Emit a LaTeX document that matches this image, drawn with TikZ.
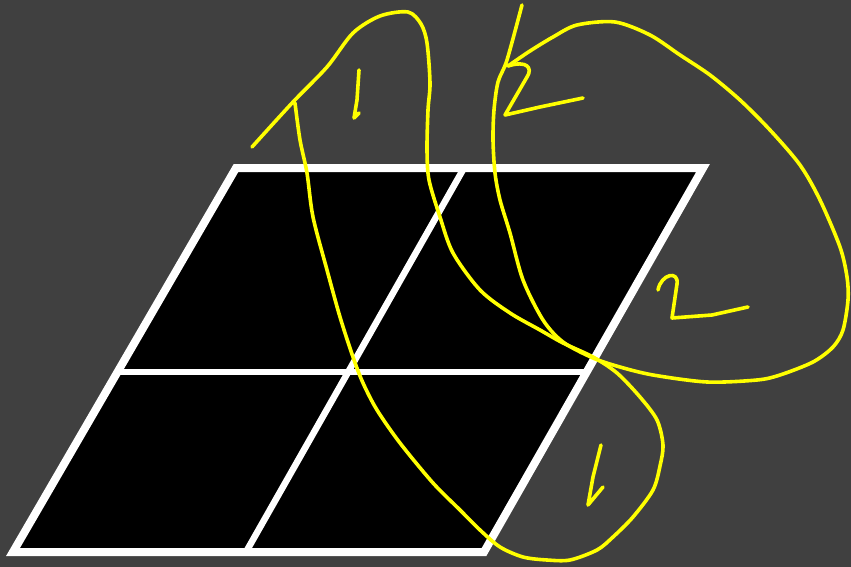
\documentclass[tikz,border=0pt]{standalone}
\usepackage{tikz}
\usetikzlibrary{calc}
\definecolor{slate}{RGB}{64,64,64}
\definecolor{marker}{RGB}{255,255,0}

\begin{document}
\begin{tikzpicture}[x=1pt, y=-1pt,
    rim/.style={draw=white, line width=8pt, fill=black},
    divider/.style={draw=white, line width=6.5pt},
    trail/.style={draw=marker, line width=3.6pt, line cap=round, line join=round},
    digit/.style={trail}
]

% Background
\fill[slate] (0,0) rectangle (851,567);
\useasboundingbox (0,0) rectangle (851,567);

% Grid corners
\coordinate (tl) at (236,168);
\coordinate (tr) at (703,168);
\coordinate (br) at (484,552);
\coordinate (bl) at (13,552);
\coordinate (ml) at ($(tl)!0.531!(bl)$);
\coordinate (mr) at ($(tr)!0.531!(br)$);
\coordinate (mt) at (464,168);
\coordinate (mb) at (246,552);

% Grid
\draw[rim] (tl) -- (tr) -- (br) -- (bl) -- cycle;
\draw[divider] (ml) -- (mr);
\draw[divider] (mt) -- (mb);

% Path 1
\draw[trail] plot[smooth, tension=0.5] coordinates {
    (295,103) (300,140) (307,173) (313,217) (327,270) (340,317) (353,357)
    (363,383) (377,410) (400,443) (433,483) (460,510) (480,530) (500,547)
    (523,557) (547,560) (570,560) (597,550) (613,537) (633,517) (653,490)
    (660,466) (663,445) (657,420) (640,397) (617,373) (593,357) (563,343)
    (540,330) (510,313) (480,290) (453,253) (440,217) (429,180) (427,150)
    (428,110) (430,83) (427,43) (421,24) (408,12) (380,16) (353,33)
    (327,67) (293,102) (252,147)};

% Path 2
\draw[trail] plot[smooth, tension=0.5] coordinates {
    (522,5) (507,60) (498,82) (494,110) (493,140) (495,173) (500,200)
    (510,233) (523,280) (543,320) (563,342) (593,358) (620,367) (653,375)
    (707,382) (757,380) (780,375) (813,362) (833,347) (843,330) (848,300)
    (847,277) (840,247) (820,200) (800,165) (770,130) (740,100) (710,75)
    (680,55) (650,35) (615,22) (577,25) (553,37) (530,51) (508,66)};

% Labels
\draw[digit] (359,70) -- (357,100) -- (354,118) -- (359,113);
\draw[digit] (601,445) -- (593,477) -- (588,505) -- (603,487);
\draw[digit] (508,66) .. controls (527,60) and (533,68) .. (527,77)
    -- (505,115) -- (540,107) -- (583,98);
\draw[digit] (658,290) .. controls (661,274) and (679,270) .. (677,284)
    -- (672,318) -- (712,315) -- (748,307);

\end{tikzpicture}
\end{document}
